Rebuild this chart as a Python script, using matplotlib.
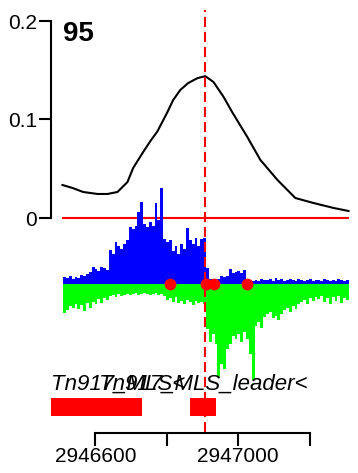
import matplotlib
matplotlib.use('Agg')
import matplotlib.pyplot as plt
import numpy as np

plt.rcParams['font.family'] = ['Liberation Sans', 'DejaVu Sans']

W, H = 358, 473

panel_id = '95'

# smoothed signal, top panel
sig_pos = [2946508, 2946536, 2946566, 2946606, 2946634, 2946662, 2946690, 2946706,
           2946734, 2946754, 2946774, 2946802, 2946818, 2946838, 2946860, 2946886,
           2946908, 2946931, 2946959, 2946984, 2947026, 2947062, 2947110, 2947160,
           2947211, 2947267, 2947309]
sig_val = [0.0335, 0.0305, 0.0264, 0.0244, 0.0244, 0.0264, 0.0365, 0.0508,
           0.067, 0.078, 0.0880, 0.1076, 0.1198, 0.130, 0.137, 0.142,
           0.144, 0.138, 0.123, 0.107, 0.082, 0.059, 0.0386, 0.0203,
           0.0152, 0.0102, 0.0071]

# strand coverage in 8 bp bins
bin_start = 2946510
bin_size = 8
plus_cov = [7, 6, 8, 5, 7, 6, 9, 8, 10, 12,
            17, 15, 13, 17, 16, 14, 34, 30, 42, 38,
            35, 40, 44, 57, 55, 58, 72, 82, 60, 57,
            62, 58, 81, 64, 96, 45, 42, 44, 33, 38,
            30, 40, 35, 56, 44, 40, 46, 38, 45, 46,
            16, 5, 4, 3, 5, 8, 7, 8, 15, 11,
            12, 13, 11, 14, 5, 4, 3, 4, 3, 5,
            4, 4, 5, 3, 6, 4, 5, 3, 4, 5,
            4, 3, 5, 4, 3, 4, 5, 3, 4, 4,
            3, 5, 4, 3, 4, 3, 5, 4, 3, 4]
minus_cov = [29, 26, 22, 24, 20, 25, 21, 27, 19, 24,
             18, 20, 15, 19, 14, 16, 12, 11, 13, 10,
             12, 11, 10, 11, 10, 9, 11, 10, 9, 10,
             11, 10, 9, 11, 10, 12, 16, 14, 18, 13,
             19, 17, 20, 16, 18, 21, 17, 19, 18, 20,
             45, 58, 50, 60, 93, 80, 85, 65, 60, 52,
             55, 50, 58, 48, 55, 70, 96, 42, 38, 44,
             33, 30, 28, 34, 32, 36, 30, 26, 24, 28,
             22, 25, 20, 18, 16, 20, 14, 17, 13, 15,
             12, 18, 14, 20, 13, 17, 12, 19, 14, 16]

site_pos = [2946810, 2946911, 2946933, 2947026]

gene_names = ['Tn917_MLS<', 'Tn917_MLS_leader<']
gene_start = [2946380, 2946864]
gene_end = [2946732, 2946939]

xticks = [2946600, 2946800, 2947000, 2947200]
xticklabels = ['2946600', '', '2947000', '']


def px_box(l, t, r, b):
    return [l / W, 1 - b / H, (r - l) / W, (b - t) / H]


span = sig_pos[-1] - sig_pos[0]
xlim = (sig_pos[0] - 0.04 * span, sig_pos[-1] + 0.04 * span)
peak = sig_pos[int(np.argmax(sig_val))]

fig = plt.figure(figsize=(W / 100, H / 100), dpi=100)

# top panel: signal
ax = fig.add_axes(px_box(51, 21, 360, 218))
ax.plot(sig_pos, sig_val, color='black', lw=1.5)
ax.hlines(0, sig_pos[0], sig_pos[-1], color='red', lw=1.5, clip_on=False)
ax.set_xlim(xlim)
ax.set_ylim(0, 0.2)
for s in ['top', 'right', 'bottom']:
    ax.spines[s].set_visible(False)
ax.spines['left'].set_linewidth(1.5)
ax.set_xticks([])
ax.set_yticks([0, 0.1, 0.2])
ax.set_yticklabels(['0', '0.1', '0.2'])
ax.tick_params(axis='y', length=9, width=1.5, pad=1, labelsize=15)
ax.patch.set_visible(False)
fig.text(63 / W, 1 - 21 / H, panel_id, fontsize=20, fontweight='bold', va='top', ha='left')

# coverage panel
ax2 = fig.add_axes(px_box(51, 180, 360, 390))
x = bin_start + bin_size * np.arange(len(plus_cov))
ax2.bar(x, plus_cov, width=bin_size, align='edge', color='#0000ff', linewidth=0)
ax2.bar(x, -np.array(minus_cov), width=bin_size, align='edge', color='#00ff00', linewidth=0)
ax2.plot(site_pos, np.zeros(len(site_pos)), 'o', color='red', ms=8.5, mec='none', zorder=5)
ax2.set_xlim(xlim)
ax2.set_ylim(-106, 104)
ax2.axis('off')

# gene annotation
ax3 = fig.add_axes(px_box(51, 398, 360, 416))
for name, s, e in zip(gene_names, gene_start, gene_end):
    ax3.barh(0.5, e - s, left=s, height=1, color='red', linewidth=0)
    if s < xlim[0]:
        tx, ha = xlim[0], 'left'
    else:
        tx, ha = (s + e) / 2, 'center'
    ax3.annotate(name, (tx, 1), xycoords=('data', 'axes fraction'), xytext=(0, 5.8),
                 textcoords='offset points', ha=ha, va='baseline', fontsize=16, style='italic')
ax3.set_xlim(xlim)
ax3.set_ylim(0, 1)
ax3.axis('off')

# genomic axis
ax4 = fig.add_axes(px_box(51, 420, 360, 433))
ax4.set_xlim(xlim)
for s in ['top', 'right', 'left']:
    ax4.spines[s].set_visible(False)
ax4.spines['bottom'].set_bounds(xticks[0], xticks[-1])
ax4.spines['bottom'].set_linewidth(1.5)
ax4.set_yticks([])
ax4.set_xticks(xticks)
ax4.set_xticklabels(xticklabels)
ax4.tick_params(axis='x', length=9.4, width=1.5, pad=1, labelsize=15)
ax4.patch.set_visible(False)

# dashed marker at the signal peak
ax5 = fig.add_axes(px_box(51, 0, 360, H))
ax5.set_xlim(xlim)
ax5.set_ylim(0, 1)
ax5.axis('off')
ax5.axvline(peak, ymin=1 - 432 / H, ymax=1 - 10 / H, color='red', lw=1.5, dashes=(4.8, 2.4))

fig.savefig('out.png', dpi=100)
